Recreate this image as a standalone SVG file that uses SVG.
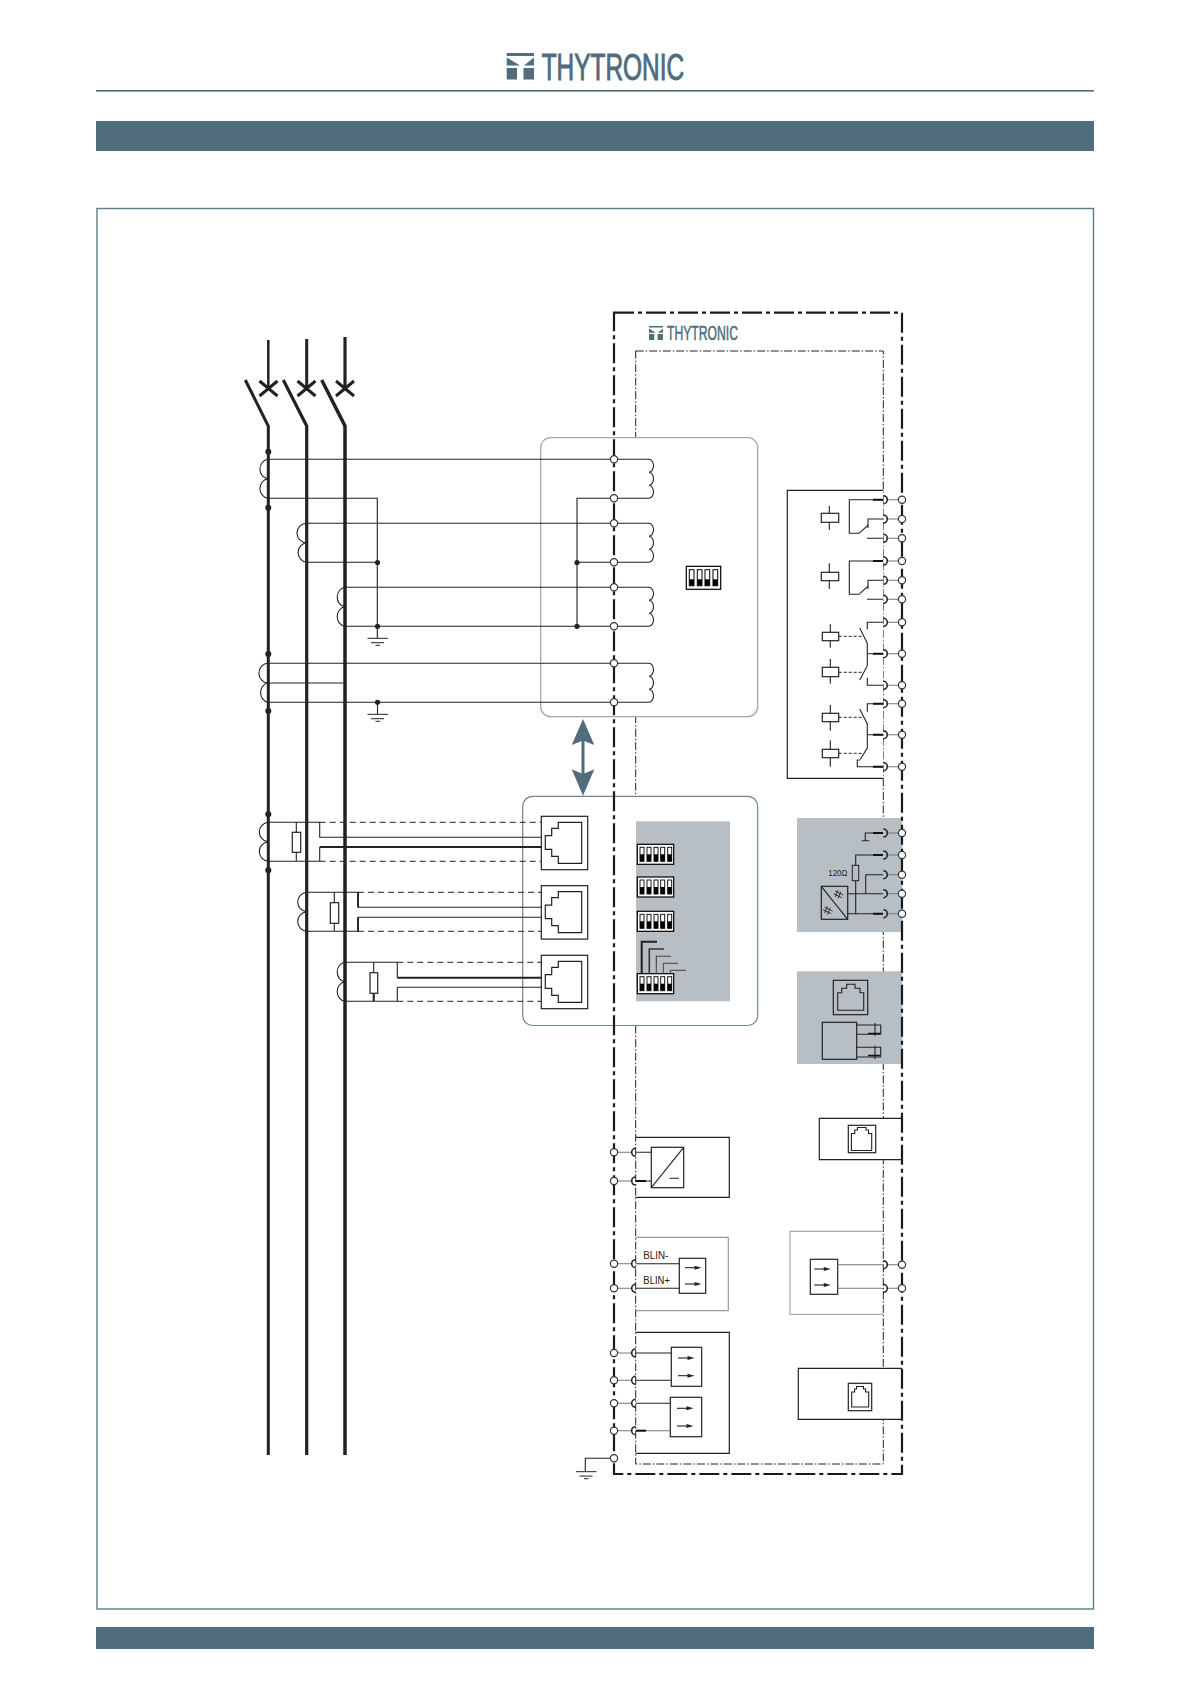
<svg xmlns="http://www.w3.org/2000/svg" xmlns:xlink="http://www.w3.org/1999/xlink" width="1190" height="1684" viewBox="0 0 1190 1684">
<style>
.w{fill:none;stroke:#222;stroke-width:1.1}
.g{fill:none;stroke:#777;stroke-width:1.1}
.b{fill:#fff;stroke:#222;stroke-width:1.2}
.nb{fill:none;stroke:#222;stroke-width:1.2}
.ph{fill:none;stroke:#222}
.dot{fill:#222}
.term{fill:#fff;stroke:#333;stroke-width:1.2}
.panel{fill:#b7bfc5}
.acc{fill:#4f6d7c}
.logo{font-family:"Liberation Sans",Arial,sans-serif;fill:#4f6d7c;stroke:#4f6d7c;font-weight:400}
.lbl{font-family:"Liberation Sans",Arial,sans-serif;fill:#222}
.dd{fill:none;stroke:#222;stroke-width:1;stroke-dasharray:6 4}
.ds{fill:none;stroke:#222;stroke-width:1;stroke-dasharray:3 2}
</style>
<defs>
<g id="mark" class="acc">
<path d="M506.7 53H534V56H506.7ZM506.7 57.5L520 65.5H506.7ZM534 57.5L524 65.5H534ZM506.7 68H517V79.5H506.7ZM523.5 68H534V79.5H523.5Z"/>
</g>
<circle id="tm" r="3.6" class="term"/>
<path id="arc-r" d="M0 -4A4 4 0 0 1 0 4" fill="none" stroke="#222" stroke-width="1.6"/>
<path id="arc-l" d="M0 -4A4 4 0 0 0 0 4" fill="none" stroke="#222" stroke-width="1.6"/>
<g id="dip4">
<rect width="34.4" height="23" fill="#fff" stroke="#000" stroke-width="1.2"/>
<g fill="#fff" stroke="#000" stroke-width="1"><rect x="3" y="3.4" width="4.7" height="16"/><rect x="11" y="3.4" width="4.7" height="16"/><rect x="18.7" y="3.4" width="4.7" height="16"/><rect x="26.7" y="3.4" width="4.7" height="16"/></g>
<g fill="#000"><rect x="3" y="13" width="4.7" height="6.4"/><rect x="11" y="13" width="4.7" height="6.4"/><rect x="18.7" y="13" width="4.7" height="6.4"/><rect x="26.7" y="13" width="4.7" height="6.4"/></g>
</g>
<g id="dip5">
<rect width="36.4" height="20" fill="#fff" stroke="#000" stroke-width="1.2"/>
<g fill="#fff" stroke="#000" stroke-width=".9"><rect x="2.7" y="3" width="4" height="14"/><rect x="9.7" y="3" width="4" height="14"/><rect x="16.7" y="3" width="4" height="14"/><rect x="23.4" y="3" width="4" height="14"/><rect x="30.4" y="3" width="4" height="14"/></g>
<g fill="#000"><rect x="2.7" y="10" width="4" height="7"/><rect x="9.7" y="10" width="4" height="7"/><rect x="16.7" y="10" width="4" height="7"/><rect x="23.4" y="10" width="4" height="7"/><rect x="30.4" y="10" width="4" height="7"/></g>
</g>
<g id="rj">
<rect width="46.4" height="53.4" class="b"/>
<path d="M40.4 6H17V12H10.4V19.4H4V33H10.4V40H17V47H40.4Z" class="nb"/>
</g>
<path id="sec" d="M4 0H35a4.5 6.5 0 0 1 0 13a4.5 6.5 0 0 1 0 13a4.5 6.5 0 0 1 0 13H4" class="w"/>
<g id="arrows"><path d="M0 0H11" class="w"/><path d="M16.5 0L9.5 -2V2Z" fill="#222"/></g>
<path id="gnd" d="M-10 0H10.5M-6.5 4.4H6.5M-2 7H2.5" fill="none" stroke="#222" stroke-width="1"/>
<path id="neq" d="M-3.6 -1.4L3.6 -2.4M-3.6 1.8L3.6 .8M-1.6 -4.5L-1 4.5M1.4 -4.5L2 4.5" fill="none" stroke="#222" stroke-width=".8"/>
</defs>

<rect width="1190" height="1684" fill="#fff"/>

<g id="page">
<rect x="96" y="90" width="998" height="1.6" class="acc"/>
<rect x="96" y="121" width="998" height="30" class="acc"/>
<rect x="96" y="1627" width="998" height="22" class="acc"/>
<rect x="97" y="208.5" width="996.5" height="1400.5" fill="none" stroke="#5f7b88" stroke-width="1.4"/>
</g>

<g id="logo-top">
<use xlink:href="#mark" href="#mark"/>
<text x="541.7" y="80" class="logo" stroke-width="1" font-size="37" textLength="142.5" lengthAdjust="spacingAndGlyphs">THYTRONIC</text>
</g>

<g id="inner-frame">
<rect x="635.7" y="351" width="247.6" height="1113" fill="none" stroke="#222" stroke-width="1" stroke-dasharray="8 2 1.5 2"/>
</g>

<g id="analog-box">
<rect x="540.7" y="437.7" width="217" height="279" rx="10" fill="#fff" stroke="#a8a8a8" stroke-width="1.3"/>
<use xlink:href="#dip4" href="#dip4" x="686.3" y="566.3"/>
</g>

<g id="sensor-box">
<rect x="522.7" y="796.3" width="235" height="229.2" rx="10" fill="#fff" stroke="#6f8793" stroke-width="1.2"/>
<rect x="636" y="821.3" width="94" height="180" class="panel"/>
<use xlink:href="#dip5" href="#dip5" x="637.3" y="844.3"/>
<use xlink:href="#dip5" href="#dip5" x="637.3" y="877"/>
<use xlink:href="#dip5" href="#dip5" x="637.3" y="911.3"/>
<use xlink:href="#dip5" href="#dip5" x="637.3" y="973.7"/>
<path d="M641.7 973.7V941.7H657" fill="none" stroke="#222" stroke-width="2"/>
<path d="M649.3 973.7V949H664" fill="none" stroke="#333" stroke-width="1.6"/>
<path d="M656.3 973.7V956.3H671" fill="none" stroke="#444" stroke-width="1.1"/>
<path d="M663.3 973.7V963.3H678" fill="none" stroke="#444" stroke-width="1"/>
<path d="M670.3 973.7V970.3H686" fill="none" stroke="#444" stroke-width="1"/>
<use xlink:href="#rj" href="#rj" x="541.3" y="816.3"/>
<use xlink:href="#rj" href="#rj" x="541.3" y="885.7"/>
<use xlink:href="#rj" href="#rj" x="541.3" y="955.3"/>
</g>

<g id="relay-box">
<path d="M883.3 490.3H787.3V778.3H883.3" fill="#fff" stroke="#222" stroke-width="1.2"/>
<g id="relay-1">
<path d="M829.3 506V530" class="w"/><rect x="821.3" y="513.3" width="17.4" height="9" class="b"/>
<path d="M883 499.7H849.3V533.3H859L868.3 525" class="w"/>
<path d="M868 528V519H883M867 538.3H883" class="w"/>
</g>
<g id="relay-2">
<path d="M829.3 563.3V589" class="w"/><rect x="821.3" y="572.3" width="17.4" height="8.4" class="b"/>
<path d="M883 561H849.3V594.3H859L868.3 586" class="w"/>
<path d="M868 589V580.3H883M867 599.3H883" class="w"/>
</g>
<g id="relay-3">
<path d="M830.3 624.3V647.7M830.3 659V683.7" class="w"/>
<rect x="822.3" y="632.3" width="16.4" height="8.4" class="b"/><rect x="822.3" y="667.3" width="16.4" height="9.4" class="b"/>
<path d="M838.7 636.3H863.3M838.7 672.3H863.3" class="ds"/>
<path d="M867.3 629.3V622.3H883M859.7 628L867.3 643.3V665.7L859.7 680M867.3 653.7H883M867.3 677.7V685.3H883" class="w"/>
</g>
<g id="relay-4">
<path d="M830.3 705V730.7M830.3 740.3V766.7" class="w"/>
<rect x="822.3" y="713.3" width="16.4" height="8.4" class="b"/><rect x="822.3" y="749.3" width="16.4" height="8.4" class="b"/>
<path d="M838.7 717.3H863.3M838.7 753.3H863.3" class="ds"/>
<path d="M867.3 711.7V703.7H883M859.7 709L867.3 724V748L860.3 759.3M867.3 734.7H883M860.3 760H857.3V766.7H883" class="w"/>
</g>
</g>

<g id="comm-panel">
<rect x="797" y="818" width="105.3" height="114" class="panel"/>
<path d="M883 833H865.3V840.7M861.7 840.7H869.3" class="w"/>
<path d="M883 855H855.7V913.7" class="w"/>
<rect x="852.3" y="865.3" width="6.4" height="15.4" fill="#b7bfc5" stroke="#222" stroke-width="1"/>
<path d="M883 874.7H865.7V893.7" class="w"/>
<path d="M847.7 893.7H883M847.7 913.7H883" class="w"/>
<rect x="821.3" y="886.3" width="26.4" height="33" class="nb"/>
<path d="M821.3 886.3L847.7 919.3" class="w"/>
<use xlink:href="#neq" href="#neq" transform="translate(838.3 894.5) rotate(-60)"/>
<use xlink:href="#neq" href="#neq" transform="translate(827.7 910.5) rotate(-60)"/>
<text x="828.3" y="876" class="lbl" font-size="9" textLength="19" lengthAdjust="spacingAndGlyphs">120Ω</text>
<path d="M873 833H883M873 855H883M873 913.7H883" fill="none" stroke="#111" stroke-width="2"/>
</g>

<g id="fibre-panel">
<rect x="797" y="971.3" width="105.3" height="92.7" class="panel"/>
<rect x="833.3" y="980.3" width="34.4" height="34.4" class="nb"/>
<path d="M837.7 1010.3V992.7H841.7V988.3H846.7V984.3H855V988.3H860V992.7H863.7V1010.3Z" class="w"/>
<rect x="822.3" y="1022.3" width="34.4" height="37" class="nb"/>
<path d="M856.7 1025H880.7V1034.3H856.7M856.7 1047.3H880.7V1057H856.7M875 1023V1036M875 1045.5V1059" class="w"/>
<path d="M868 1033.5H880M868 1055.5H880" fill="none" stroke="#111" stroke-width="1.6"/>
</g>

<g id="power-box">
<path d="M635.7 1137.3H729.3V1197.3H635.7" class="nb"/>
<rect x="651.3" y="1147.3" width="32.4" height="40.4" class="nb"/>
<path d="M651.3 1187.7L683.7 1147.3M669.3 1178.3H679" class="w"/>
<path d="M636 1152.3H651.3M636 1181H651.3" class="w"/>
</g>

<g id="rj-upper">
<path d="M902 1118.3H819.3V1159.7H902" fill="#fff" stroke="#222" stroke-width="1.2"/>
<rect x="848.3" y="1125.3" width="27.4" height="27.4" class="nb"/>
<path d="M851.4 1150.5V1133.5H854.8V1130H857.5V1127.5H866V1130H868.5V1133.5H871.7V1150.5Z" class="w"/>
</g>

<g id="blin-box">
<path d="M635.7 1237.3H728.3V1310.7H635.7" fill="none" stroke="#999" stroke-width="1.2"/>
<rect x="679.3" y="1258.3" width="26.4" height="35" class="nb"/>
<use xlink:href="#arrows" href="#arrows" x="685" y="1267.7"/>
<use xlink:href="#arrows" href="#arrows" x="685" y="1284"/>
<path d="M636 1263.7H679.3M636 1288.3H679.3" class="w"/>
<text x="643.3" y="1259" class="lbl" font-size="11.5" textLength="25" lengthAdjust="spacingAndGlyphs">BLIN-</text>
<text x="643.3" y="1283.7" class="lbl" font-size="11.5" textLength="26.7" lengthAdjust="spacingAndGlyphs">BLIN+</text>
</g>

<g id="blout-box">
<path d="M883.3 1231.3H790V1314.3H883.3" fill="none" stroke="#aaa" stroke-width="1.2"/>
<rect x="810.3" y="1259.3" width="27.4" height="35" class="nb"/>
<use xlink:href="#arrows" href="#arrows" x="814.3" y="1269"/>
<use xlink:href="#arrows" href="#arrows" x="814.3" y="1285"/>
<path d="M837.7 1264.7H883M837.7 1288.3H883" class="g"/>
</g>

<g id="input-box">
<path d="M635.7 1332.3H729.3V1453.3H635.7" class="nb"/>
<rect x="671.3" y="1347.3" width="30.4" height="39" class="nb"/>
<rect x="670.3" y="1397.3" width="31.4" height="39.4" class="nb"/>
<use xlink:href="#arrows" href="#arrows" x="678" y="1358"/>
<use xlink:href="#arrows" href="#arrows" x="678" y="1375.7"/>
<use xlink:href="#arrows" href="#arrows" x="677" y="1408.3"/>
<use xlink:href="#arrows" href="#arrows" x="677" y="1426"/>
<path d="M636 1353H671.3M636 1380.3H671.3M636 1403.3H670.3" class="w"/>
<path d="M636 1430.7H670.3" class="g"/>
<path d="M636 1430.7H646" fill="none" stroke="#111" stroke-width="2"/>
</g>

<g id="rj-lower">
<path d="M902 1368.3H798.3V1419.3H902" fill="#fff" stroke="#222" stroke-width="1.2"/>
<rect x="848.3" y="1383.3" width="23.4" height="27.4" class="nb"/>
<path d="M851.7 1407V1392H854.6V1389H856.6V1386.5H863.5V1389H865.6V1392H868.7V1407Z" class="w"/>
</g>

<g id="connectors">
<g id="phases">
<path d="M268.3 340V388" class="ph" stroke-width="2.5"/>
<path d="M306.7 339V388" class="ph" stroke-width="3"/>
<path d="M345 337V388" class="ph" stroke-width="3.2"/>
<path d="M259.5 381L277.5 396M277.5 381L259.5 396" class="ph" stroke-width="3"/>
<path d="M297.5 381L315.5 396M315.5 381L297.5 396" class="ph" stroke-width="3"/>
<path d="M336 381L354 396M354 381L336 396" class="ph" stroke-width="3"/>
<path d="M245.3 380L268.3 426V1455" class="ph" stroke-width="3"/>
<path d="M283.3 380L306.7 426V1455" class="ph" stroke-width="3.2"/>
<path d="M321.7 380L345 426V1455" class="ph" stroke-width="3.5"/>
<g class="dot"><circle cx="268.3" cy="451.7" r="3"/><circle cx="268.3" cy="507.7" r="3"/><circle cx="268.3" cy="654" r="3"/><circle cx="268.3" cy="711" r="3"/><circle cx="268.3" cy="814.3" r="3"/><circle cx="268.3" cy="870.3" r="3"/></g>
</g>
<g id="ct-wires">
<path d="M268 459.3H614M268 459.3A9 9.8 0 0 0 268 478.8A9 9.8 0 0 0 268 498.3H377.3V638.3" class="w"/>
<path d="M306.7 523.3H614M306.7 523.3A9.5 9.5 0 0 0 306.7 542.8A9.5 9.8 0 0 0 306.7 562.3H377.3" class="w"/>
<path d="M345 587.3H614M345 587.3A8.7 9.8 0 0 0 345 606.8A8.7 9.8 0 0 0 345 626.3H614" class="w"/>
<path d="M614 498.3H577V626.3M577 562.3H614" class="w"/>
<path d="M268 663.3H614M268 683H343M268 663.3A9 9.8 0 0 0 268 683A9 9.8 0 0 0 268 702.3H614M377.5 702.3V714.3" class="w"/>
<g class="dot"><circle cx="377.5" cy="562.5" r="2.6"/><circle cx="377.5" cy="626.3" r="2.6"/><circle cx="577" cy="562.5" r="2.6"/><circle cx="577" cy="626.3" r="2.6"/><circle cx="377.5" cy="702.3" r="2.6"/></g>
<use xlink:href="#gnd" href="#gnd" x="377.5" y="638.3"/>
<use xlink:href="#gnd" href="#gnd" x="377.5" y="714.3"/>
</g>
<g id="sensor-wires">
<path d="M268.3 822.3H319.7V837.3H541.3M319.7 847V861.3H268.3M268.3 822.3A10 9.8 0 0 0 268.3 841.8A10 9.8 0 0 0 268.3 861.3M296.3 822.3V861.3" class="w"/>
<path d="M319.7 847H541.3" fill="none" stroke="#222" stroke-width="2"/>
<path d="M319.7 822.3H541.3M319.7 861.3H541.3" class="dd"/>
<rect x="292.3" y="832.3" width="8.4" height="20" class="b"/>
<path d="M306.7 892.3H358V907.3H541.3M358 917.3H541.3M358 917.3V931.3H306.7M306.7 892.3A10 9.8 0 0 0 306.7 911.8A10 9.8 0 0 0 306.7 931.3M334.3 892.3V931.3" class="w"/>
<path d="M358 892.3V907.3M358 917.3V931.3" fill="none" stroke="#222" stroke-width="1.8"/>
<path d="M358 892.3H541.3M358 931.3H541.3" class="dd"/>
<rect x="330.3" y="902.7" width="8.4" height="20.6" class="b" stroke-width="1.6"/>
<path d="M345 962.3H397.3V977.7M397.3 987.3V1001.3H345M345 962.3A8.7 9.8 0 0 0 345 981.8A8.7 9.8 0 0 0 345 1001.3M373.7 962.3V1001.3M397.3 987.3H541.3" class="w"/>
<path d="M397.3 977.7H541.3M373.7 993V1001.3" fill="none" stroke="#222" stroke-width="2"/>
<path d="M397.3 962.3H541.3M397.3 1001.3H541.3" class="dd"/>
<rect x="370" y="972.7" width="7.7" height="20.6" class="b"/>
</g>
<g id="secondaries">
<use xlink:href="#sec" href="#sec" x="614" y="459.3"/>
<use xlink:href="#sec" href="#sec" x="614" y="523.3"/>
<use xlink:href="#sec" href="#sec" x="614" y="587.3"/>
<use xlink:href="#sec" href="#sec" x="614" y="663.3"/>
</g>
<g id="bidirectional-arrow" class="acc">
<path d="M581.5 735H584.5V775H581.5Z"/>
<path d="M583 719L594.3 745L583 740.5L571.7 745Z"/>
<path d="M583 795.7L594.3 769.3L583 774L571.7 769.3Z"/>
</g>
<g id="ground-main">
<path d="M614 1458.3H585.3V1471.7" class="w"/>
<use xlink:href="#gnd" href="#gnd" x="586" y="1471.7"/>
</g>
<g id="term-leads-right">
<path d="M887 499.7H902M887 519H902M887 538.3H902M887 561H902M887 580.3H902M887 599.3H902M887 622.3H902M887 653.7H902M887 685.3H902M887 703.7H902M887 734.7H902M887 766.7H902M887 833H902M887 855H902M887 874.7H902M887 893.7H902M887 913.7H902M887 1264.7H902M887 1288.3H902" class="g"/>
<path d="M873 499.7H883M873 561H883M873 653.7H883M873 703.7H883M873 734.7H883M873 766.7H883" fill="none" stroke="#111" stroke-width="2"/>
<g>
<use xlink:href="#arc-r" href="#arc-r" x="883.3" y="499.7"/><use xlink:href="#arc-r" href="#arc-r" x="883.3" y="519"/><use xlink:href="#arc-r" href="#arc-r" x="883.3" y="538.3"/><use xlink:href="#arc-r" href="#arc-r" x="883.3" y="561"/><use xlink:href="#arc-r" href="#arc-r" x="883.3" y="580.3"/><use xlink:href="#arc-r" href="#arc-r" x="883.3" y="599.3"/><use xlink:href="#arc-r" href="#arc-r" x="883.3" y="622.3"/><use xlink:href="#arc-r" href="#arc-r" x="883.3" y="653.7"/><use xlink:href="#arc-r" href="#arc-r" x="883.3" y="685.3"/><use xlink:href="#arc-r" href="#arc-r" x="883.3" y="703.7"/><use xlink:href="#arc-r" href="#arc-r" x="883.3" y="734.7"/><use xlink:href="#arc-r" href="#arc-r" x="883.3" y="766.7"/><use xlink:href="#arc-r" href="#arc-r" x="883.3" y="833"/><use xlink:href="#arc-r" href="#arc-r" x="883.3" y="855"/><use xlink:href="#arc-r" href="#arc-r" x="883.3" y="874.7"/><use xlink:href="#arc-r" href="#arc-r" x="883.3" y="893.7"/><use xlink:href="#arc-r" href="#arc-r" x="883.3" y="913.7"/><use xlink:href="#arc-r" href="#arc-r" x="883.3" y="1264.7"/><use xlink:href="#arc-r" href="#arc-r" x="883.3" y="1288.3"/>
</g>
</g>
<g id="term-leads-left">
<path d="M614 1152.3H631.7M614 1181H631.7M614 1263.7H631.7M614 1288.3H631.7M614 1353H631.7M614 1380.3H631.7M614 1403.3H631.7M614 1430.7H631.7" class="g"/>
<path d="M636 1181H646" fill="none" stroke="#111" stroke-width="2"/>
<use xlink:href="#arc-l" href="#arc-l" x="635.7" y="1152.3"/><use xlink:href="#arc-l" href="#arc-l" x="635.7" y="1181"/><use xlink:href="#arc-l" href="#arc-l" x="635.7" y="1263.7"/><use xlink:href="#arc-l" href="#arc-l" x="635.7" y="1288.3"/><use xlink:href="#arc-l" href="#arc-l" x="635.7" y="1353"/><use xlink:href="#arc-l" href="#arc-l" x="635.7" y="1380.3"/><use xlink:href="#arc-l" href="#arc-l" x="635.7" y="1403.3"/><use xlink:href="#arc-l" href="#arc-l" x="635.7" y="1430.7"/>
</g>
</g>

<g id="outer-frame">
<path d="M614 312.7H902V1474H614Z" fill="none" stroke="#1a1a1a" stroke-width="2.2" stroke-dasharray="20 4 4 4"/>
</g>

<g id="logo-small">
<use xlink:href="#mark" href="#mark" transform="translate(649 326) scale(.51 .53) translate(-506.7 -53)"/>
<text x="667" y="340" class="logo" stroke-width=".5" font-size="19.5" textLength="71" lengthAdjust="spacingAndGlyphs">THYTRONIC</text>
</g>

<g id="terminals">
<use xlink:href="#tm" href="#tm" x="614" y="459.3"/><use xlink:href="#tm" href="#tm" x="614" y="498.3"/><use xlink:href="#tm" href="#tm" x="614" y="523.3"/><use xlink:href="#tm" href="#tm" x="614" y="562.3"/><use xlink:href="#tm" href="#tm" x="614" y="587.3"/><use xlink:href="#tm" href="#tm" x="614" y="626.3"/><use xlink:href="#tm" href="#tm" x="614" y="663.3"/><use xlink:href="#tm" href="#tm" x="614" y="702.3"/>
<use xlink:href="#tm" href="#tm" x="614" y="1152.3"/><use xlink:href="#tm" href="#tm" x="614" y="1181"/><use xlink:href="#tm" href="#tm" x="614" y="1263.7"/><use xlink:href="#tm" href="#tm" x="614" y="1288.3"/><use xlink:href="#tm" href="#tm" x="614" y="1353"/><use xlink:href="#tm" href="#tm" x="614" y="1380.3"/><use xlink:href="#tm" href="#tm" x="614" y="1403.3"/><use xlink:href="#tm" href="#tm" x="614" y="1430.7"/><use xlink:href="#tm" href="#tm" x="614" y="1458.3"/>
<use xlink:href="#tm" href="#tm" x="902" y="499.7"/><use xlink:href="#tm" href="#tm" x="902" y="519"/><use xlink:href="#tm" href="#tm" x="902" y="538.3"/><use xlink:href="#tm" href="#tm" x="902" y="561"/><use xlink:href="#tm" href="#tm" x="902" y="580.3"/><use xlink:href="#tm" href="#tm" x="902" y="599.3"/><use xlink:href="#tm" href="#tm" x="902" y="622.3"/><use xlink:href="#tm" href="#tm" x="902" y="653.7"/><use xlink:href="#tm" href="#tm" x="902" y="685.3"/><use xlink:href="#tm" href="#tm" x="902" y="703.7"/><use xlink:href="#tm" href="#tm" x="902" y="734.7"/><use xlink:href="#tm" href="#tm" x="902" y="766.7"/>
<use xlink:href="#tm" href="#tm" x="902" y="833"/><use xlink:href="#tm" href="#tm" x="902" y="855"/><use xlink:href="#tm" href="#tm" x="902" y="874.7"/><use xlink:href="#tm" href="#tm" x="902" y="893.7"/><use xlink:href="#tm" href="#tm" x="902" y="913.7"/><use xlink:href="#tm" href="#tm" x="902" y="1264.7"/><use xlink:href="#tm" href="#tm" x="902" y="1288.3"/>
</g>
</svg>
